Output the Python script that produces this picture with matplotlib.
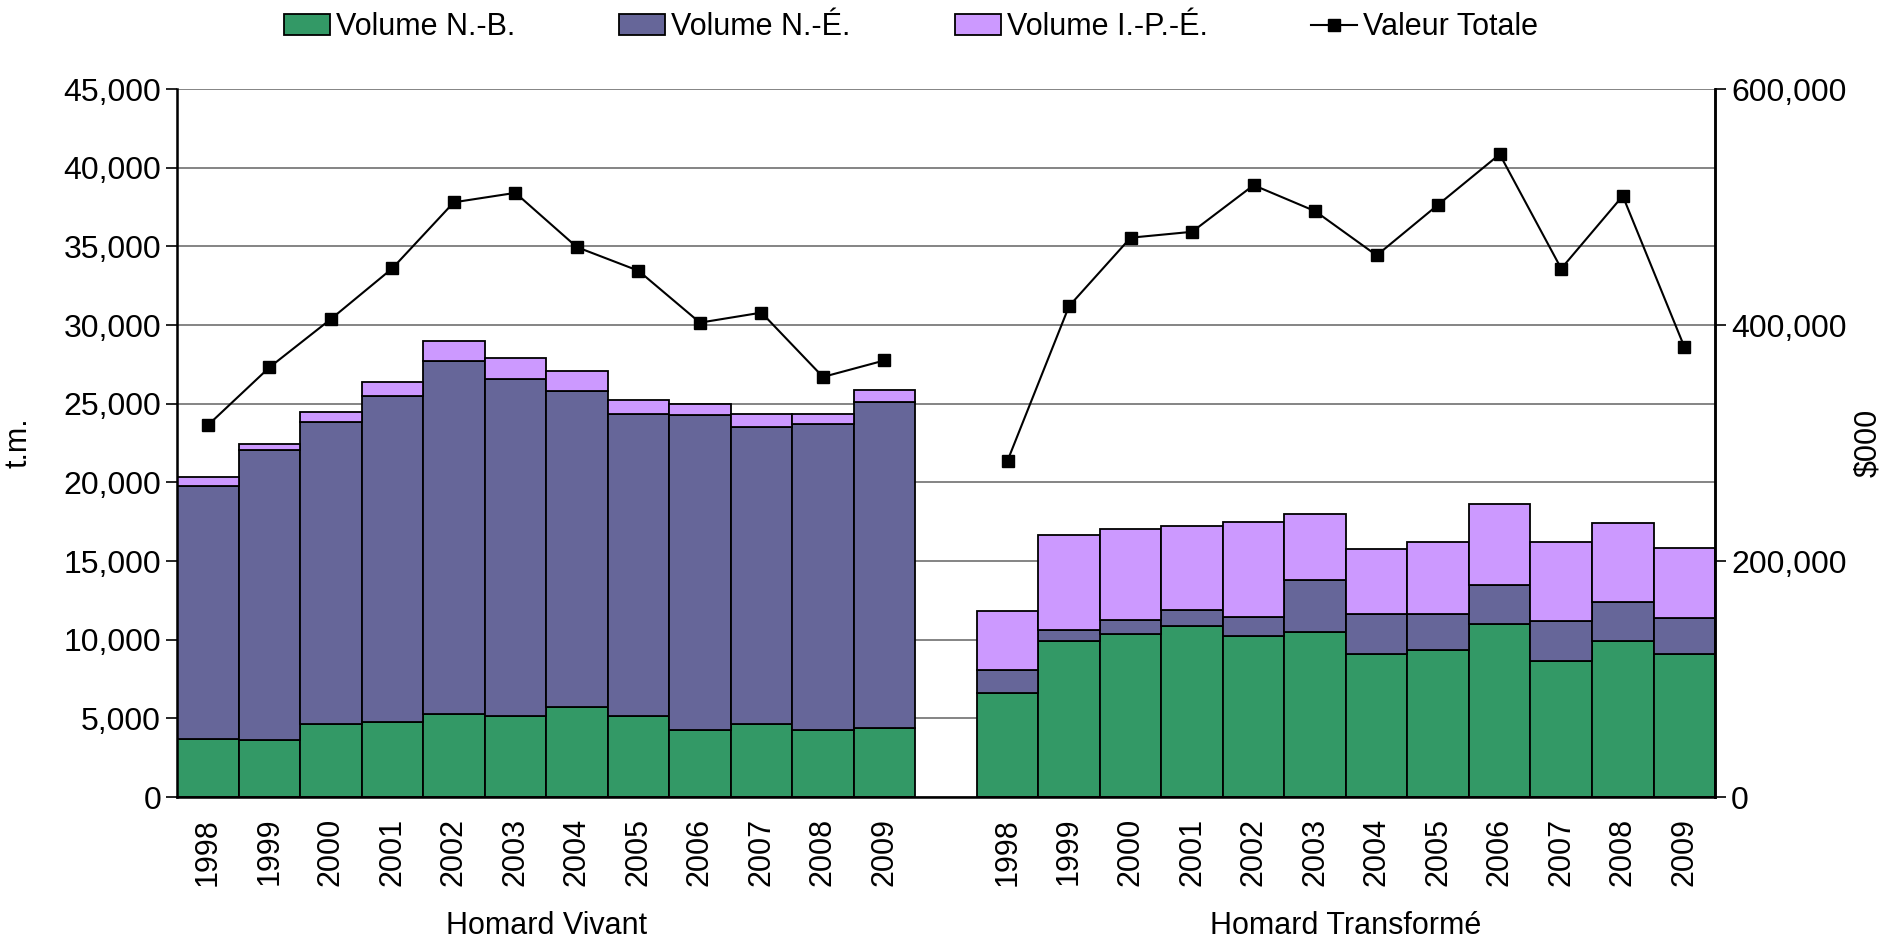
import matplotlib.pyplot as plt
import numpy as np
from matplotlib.ticker import FuncFormatter

plt.rcParams['font.family'] = ['Liberation Sans', 'DejaVu Sans']
plt.rcParams['font.size'] = 22

years = ['1998', '1999', '2000', '2001', '2002', '2003',
         '2004', '2005', '2006', '2007', '2008', '2009']
groups = ['Homard Vivant', 'Homard Transformé']

# cumulative tops (t.m.)
nb_vivant = [3680, 3630, 4630, 4780, 5250, 5160, 5700, 5160, 4270, 4630, 4270, 4360]
ne_top_vivant = [19760, 22060, 23840, 25460, 27710, 26580, 25820, 24370, 24290, 23520, 23690, 25080]
ipe_top_vivant = [20320, 22460, 24480, 26370, 28960, 27900, 27050, 25220, 25010, 24330, 24370, 25880]

nb_transf = [6640, 9920, 10350, 10860, 10210, 10490, 9120, 9350, 10980, 8640, 9920, 9070]
ne_top_transf = [8100, 10630, 11230, 11860, 11430, 13770, 11630, 11630, 13460, 11200, 12370, 11400]
ipe_top_transf = [11800, 16650, 17020, 17220, 17450, 17990, 15740, 16220, 18650, 16190, 17420, 15850]

# Valeur Totale ($000)
val_vivant = [315000, 364000, 405000, 448000, 504000, 512000, 466000, 446000, 402000, 410500, 356000, 370000]
val_transf = [285000, 416000, 474000, 479000, 518500, 496500, 459000, 502000, 544700, 447800, 509400, 381600]

nb = np.array(nb_vivant + nb_transf)
ne = np.array(ne_top_vivant + ne_top_transf) - nb
ipe = np.array(ipe_top_vivant + ipe_top_transf) - nb - ne

n = len(years)
x = np.concatenate([np.arange(n), np.arange(n) + n + 1])

fig = plt.figure(figsize=(18.83, 9.44), dpi=100)
ax = fig.add_axes([0.094, 0.1557, 0.8168, 0.75])
ax.set_axisbelow(True)

ax.bar(x, nb, width=1.0, color='#339966', edgecolor='black', linewidth=1.3, label='Volume N.-B.')
ax.bar(x, ne, bottom=nb, width=1.0, color='#666699', edgecolor='black', linewidth=1.3, label='Volume N.-É.')
ax.bar(x, ipe, bottom=nb + ne, width=1.0, color='#CC99FF', edgecolor='black', linewidth=1.3, label='Volume I.-P.-É.')

ax.set_xlim(-0.5, 2 * n + 0.5)
ax.set_ylim(0, 45000)
ax.set_yticks(np.arange(0, 45001, 5000))
ax.yaxis.set_major_formatter(FuncFormatter(lambda v, p: f'{int(v):,}'))
ax.grid(axis='y', color='#707070', linewidth=1.2)
ax.set_xticks(x)
ax.set_xticklabels(years + years, rotation=90)
ax.tick_params(axis='x', length=0, pad=15)
ax.tick_params(axis='y', length=8, width=1.2, direction='out', labelsize=23)
ax.spines['top'].set_visible(False)
for s in ['left', 'bottom', 'right']:
    ax.spines[s].set_linewidth(1.8)
ax.set_ylabel('t.m.')
ax.yaxis.set_label_coords(-0.093, 0.5)

ax2 = ax.twinx()
ax2.set_ylim(0, 600000)
ax2.set_yticks([0, 200000, 400000, 600000])
ax2.yaxis.set_major_formatter(FuncFormatter(lambda v, p: f'{int(v):,}'))
ax2.tick_params(axis='y', length=8, width=1.2, direction='out', labelsize=23)
ax2.spines['top'].set_visible(False)
ax2.spines['right'].set_linewidth(1.8)
ax2.plot(x[:n], val_vivant, color='black', marker='s', markersize=9, linewidth=1.5, label='Valeur Totale')
ax2.plot(x[n:], val_transf, color='black', marker='s', markersize=9, linewidth=1.5)
ax2.set_ylabel('$000')
ax2.yaxis.set_label_coords(1.09, 0.5)

trans = ax.get_xaxis_transform()
ax.text((n - 1) / 2, -0.182, groups[0], transform=trans, ha='center', va='center')
ax.text(n + 1 + (n - 1) / 2, -0.182, groups[1], transform=trans, ha='center', va='center')

h1, l1 = ax.get_legend_handles_labels()
h2, l2 = ax2.get_legend_handles_labels()
fig.legend(h1 + h2, l1 + l2, loc='upper center', bbox_to_anchor=(0.484, 1.016), ncol=4,
           frameon=False, handlelength=1.5, handleheight=0.7, handletextpad=0.2,
           columnspacing=3.4)

fig.savefig('out.png', dpi=100)
